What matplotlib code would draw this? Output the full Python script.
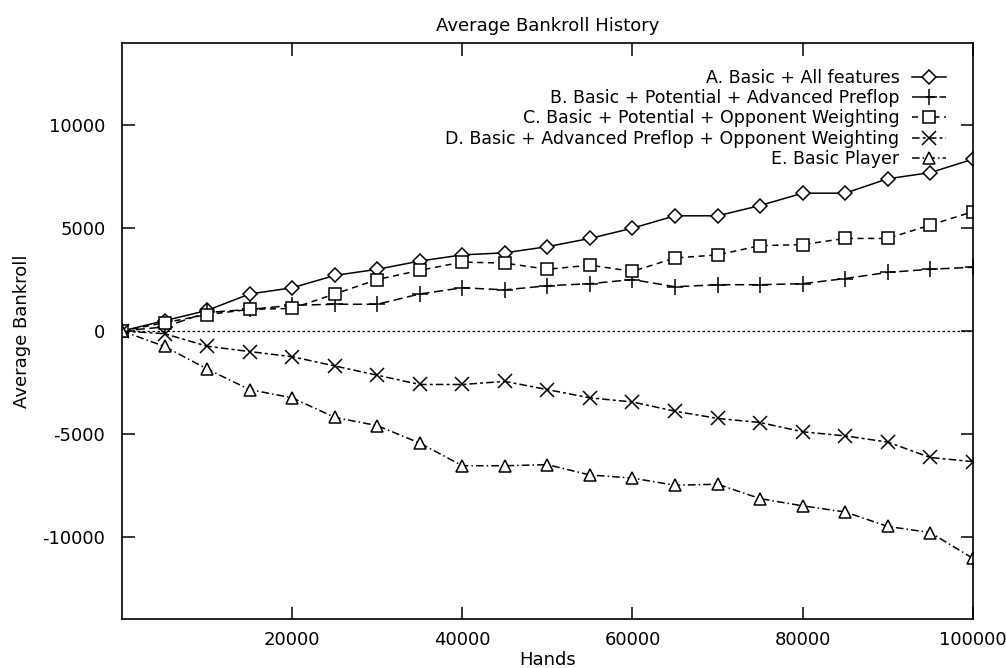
import matplotlib
matplotlib.use('Agg')
import matplotlib.pyplot as plt

plt.rcParams['font.family'] = ['DejaVu Sans']
plt.rcParams['axes.unicode_minus'] = False

hands = [0, 5000, 10000, 15000, 20000, 25000, 30000, 35000, 40000, 45000, 50000,
         55000, 60000, 65000, 70000, 75000, 80000, 85000, 90000, 95000, 100000]

bank_a = [0, 500, 1000, 1800, 2100, 2700, 3000, 3400, 3700, 3800, 4100,
          4500, 5000, 5600, 5600, 6100, 6700, 6700, 7400, 7700, 8350]
bank_b = [0, 200, 900, 1050, 1250, 1300, 1300, 1800, 2100, 2000, 2200,
          2300, 2500, 2150, 2250, 2250, 2300, 2550, 2850, 3000, 3100]
bank_c = [0, 400, 800, 1050, 1100, 1800, 2500, 2950, 3350, 3300, 3000,
          3200, 2900, 3550, 3700, 4150, 4200, 4500, 4500, 5150, 5800]
bank_d = [0, -130, -740, -1000, -1250, -1700, -2150, -2600, -2600, -2450, -2850,
          -3250, -3450, -3900, -4250, -4450, -4900, -5100, -5400, -6150, -6350]
bank_e = [0, -750, -1850, -2850, -3250, -4200, -4600, -5450, -6550, -6550, -6500,
          -7000, -7150, -7500, -7450, -8150, -8500, -8800, -9500, -9800, -11050]

labels = ['A. Basic + All features',
          'B. Basic + Potential + Advanced Preflop',
          'C. Basic + Potential + Opponent Weighting',
          'D. Basic + Advanced Preflop + Opponent Weighting',
          'E. Basic Player']

fig = plt.figure(figsize=(10.06, 6.68), dpi=100)
ax = fig.add_axes([0.1213, 0.0734, 0.8457, 0.8622])

ax.axhline(0, color='black', lw=0.9, ls=(0, (2, 2)), zorder=1)

mk = dict(color='black', lw=1.1, markersize=8, markerfacecolor='white',
          markeredgewidth=1.1)
ax.plot(hands, bank_a, marker='D', ls='-', label=labels[0], **{**mk, 'markersize': 7})
ax.plot(hands, bank_b, marker='+', ls=(0, (6, 3)), label=labels[1], **{**mk, 'markersize': 12})
ax.plot(hands, bank_c, marker='s', ls=(0, (4, 3)), label=labels[2], **mk)
ax.plot(hands, bank_d, marker='x', ls=(0, (5, 2, 2, 2)), label=labels[3], **{**mk, 'markersize': 10})
ax.plot(hands, bank_e, marker='^', ls=(0, (5, 2, 1, 2)), label=labels[4], **mk)

ax.set_xlim(0, 100000)
ax.set_ylim(-14000, 14000)
ax.set_xticks([20000, 40000, 60000, 80000, 100000])
ax.set_yticks([-10000, -5000, 0, 5000, 10000])
ax.tick_params(direction='in', length=9, width=1.1, top=True, right=True,
               labelsize=13)
ax.tick_params(axis='y', pad=12)
ax.tick_params(axis='x', pad=9)
for s in ax.spines.values():
    s.set_linewidth(1.2)

ax.set_title('Average Bankroll History', fontsize=13, pad=9)
ax.set_xlabel('Hands', fontsize=13, labelpad=1)
ax.set_ylabel('Average Bankroll', fontsize=13, labelpad=8)

ax.legend(loc='upper right', bbox_to_anchor=(0.977, 0.967), frameon=False,
          markerfirst=False, fontsize=12.5, handlelength=2.0, labelspacing=0.13,
          handletextpad=0.7, borderaxespad=0)

plt.savefig('out.png', dpi=100)
